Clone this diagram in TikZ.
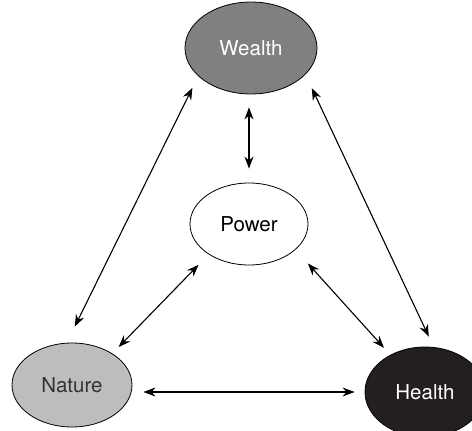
\documentclass[tikz,border=0pt]{standalone}
\usepackage{fontspec}
\setmainfont{TeX Gyre Heros}
\usetikzlibrary{arrows.meta, shapes.geometric}
\definecolor{wealthgray}{HTML}{808080}
\definecolor{naturegray}{HTML}{BDBDBD}
\definecolor{healthblack}{HTML}{231F20}
\tikzset{<->,>={Stealth[length=12pt,width=9pt]},
  topic/.style={ellipse, draw, line width=0.8pt, inner sep=0pt, font=\fontsize{20.5}{24}\selectfont},
  link/.style={line width=1.1pt}}

\begin{document}
\begin{tikzpicture}[x=1pt,y=-1pt]
\useasboundingbox (0,0) rectangle (472,431);
\clip (0,0) rectangle (472,431);
\node[topic, fill=wealthgray, text=white, minimum width=132pt, minimum height=92pt] (wealth) at (251,48) {Wealth};
\node[topic, fill=white, minimum width=118pt, minimum height=82pt] (power) at (249,224) {Power};
\node[topic, fill=naturegray, text=black!80, minimum width=120pt, minimum height=84pt] (nature) at (72,385) {Nature};
\node[topic, fill=healthblack, text=white, minimum width=120pt, minimum height=90pt] (health) at (425,392) {Health};
\draw[link, shorten <=13pt, shorten >=18pt] (wealth.208) -- (nature.97);
\draw[link, shorten <=15pt, shorten >=11.5pt] (wealth.334) -- (health.79);
\draw[link, shorten <=13pt, shorten >=14pt] (wealth.south -| power) -- (power.north);
\draw[link, shorten <=14.5pt, shorten >=9pt] (power.217) -- (nature.38);
\draw[link, shorten <=18.5pt, shorten >=9.5pt] (power.331) -- (health.133);
\draw[link, shorten <=11pt, shorten >=10pt] (nature.east |- health.west) -- (health.west);
\end{tikzpicture}
\end{document}
